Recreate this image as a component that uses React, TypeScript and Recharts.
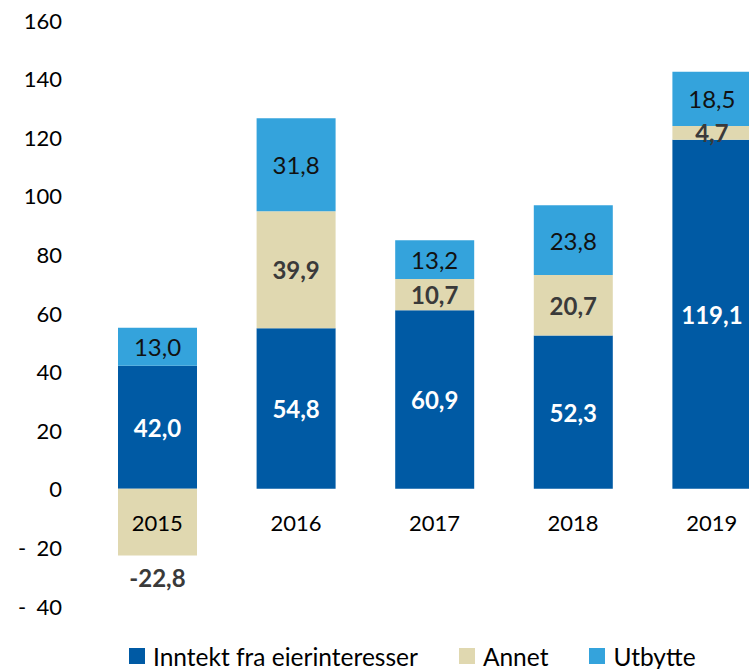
import { Bar, BarChart, LabelList, Legend, XAxis, YAxis } from "recharts";

const years = ["2015", "2016", "2017", "2018", "2019"];
const inntekt = [42.0, 54.8, 60.9, 52.3, 119.1];
const annet = [-22.8, 39.9, 10.7, 20.7, 4.7];
const utbytte = [13.0, 31.8, 13.2, 23.8, 18.5];
const yTicks = [-40, -20, 0, 20, 40, 60, 80, 100, 120, 140, 160];

const rows = years.map((year, i) => ({
  year,
  inntekt: inntekt[i],
  annet: annet[i],
  utbytte: utbytte[i]
}));

const FONT = "Lato, 'Open Sans', sans-serif";
const DARK_BLUE = "#005AA4";
const BEIGE = "#E0D8B0";
const LIGHT_BLUE = "#34A3DC";

const W = 773;
const H = 661;
const TOP = 12;
const PLOT_H = 586;
const LEGEND_H = 30;
const X_AXIS_H = 1;
const zeroY = TOP + (PLOT_H * 160) / 200;

const fmt = (v: number) => v.toFixed(1).replace(".", ",");

function YTick(props: any) {
  const { y, payload } = props;
  const v = payload.value as number;
  const common = { fontFamily: FONT, fontSize: 22, fill: "#000", dominantBaseline: "central" as const };
  if (v < 0) {
    return (
      <g>
        <text x={10} y={y} {...common}>-</text>
        <text x={54} y={y} textAnchor="end" {...common}>{Math.abs(v)}</text>
      </g>
    );
  }
  return (
    <text x={54} y={y} textAnchor="end" {...common}>
      {v}
    </text>
  );
}

function XTick(props: any) {
  const { x, payload } = props;
  return (
    <text x={x} y={zeroY + 34} textAnchor="middle" dominantBaseline="central" fontFamily={FONT} fontSize={22} fill="#000">
      {payload.value}
    </text>
  );
}

function makeLabel(color: string, bold: boolean) {
  return (props: any) => {
    const { x, y, width, height, value } = props;
    const cx = x + width / 2;
    let cy = y + height / 2;
    if (value < 0) cy = Math.max(y, y + height) + 22;
    return (
      <text
        x={cx}
        y={cy}
        textAnchor="middle"
        dominantBaseline="central"
        fontFamily={FONT}
        fontSize={24}
        fontWeight={bold ? 700 : 400}
        fill={color}
      >
        {fmt(value)}
      </text>
    );
  };
}

const legendItems = [
  { name: "Inntekt fra eierinteresser", color: DARK_BLUE },
  { name: "Annet", color: BEIGE },
  { name: "Utbytte", color: LIGHT_BLUE }
];

function LegendContent() {
  return (
    <div style={{ display: "flex", alignItems: "center", height: LEGEND_H, paddingLeft: 121, fontFamily: FONT, fontSize: 24.5, whiteSpace: "nowrap" }}>
      {legendItems.map((item) => (
        <div key={item.name} style={{ display: "flex", alignItems: "center", marginRight: 41 }}>
          <span style={{ width: 16, height: 16, background: item.color, display: "inline-block", marginRight: 8 }} />
          <span>{item.name}</span>
        </div>
      ))}
    </div>
  );
}

export default function App() {
  return (
    <div style={{ position: "fixed", left: 0, top: 0, width: 749, height: 669, overflow: "hidden", background: "#fff" }}>
      <div style={{ position: "absolute", left: 8, top: 8 }}>
        <BarChart
          width={W}
          height={H}
          data={rows}
          stackOffset="sign"
          barSize={79}
          margin={{ top: TOP, right: 0, left: 0, bottom: H - TOP - PLOT_H - LEGEND_H - X_AXIS_H }}
        >
          <YAxis
            width={80}
            domain={[-40, 160]}
            ticks={yTicks}
            axisLine={false}
            tickLine={false}
            tick={<YTick />}
            interval={0}
          />
          <Bar dataKey="inntekt" stackId="a" fill={DARK_BLUE} isAnimationActive={false}>
            <LabelList dataKey="inntekt" content={makeLabel("#ffffff", true)} />
          </Bar>
          <Bar dataKey="annet" stackId="a" fill={BEIGE} isAnimationActive={false}>
            <LabelList dataKey="annet" content={makeLabel("#3a3a3a", true)} />
          </Bar>
          <Bar dataKey="utbytte" stackId="a" fill={LIGHT_BLUE} isAnimationActive={false}>
            <LabelList dataKey="utbytte" content={makeLabel("#111111", false)} />
          </Bar>
          <XAxis dataKey="year" height={X_AXIS_H} axisLine={false} tickLine={false} tick={<XTick />} interval={0} />
          <Legend
            verticalAlign="bottom"
            content={<LegendContent />}
            wrapperStyle={{ top: 633, bottom: "auto", left: 0, width: 741, height: LEGEND_H }}
          />
        </BarChart>
      </div>
    </div>
  );
}
